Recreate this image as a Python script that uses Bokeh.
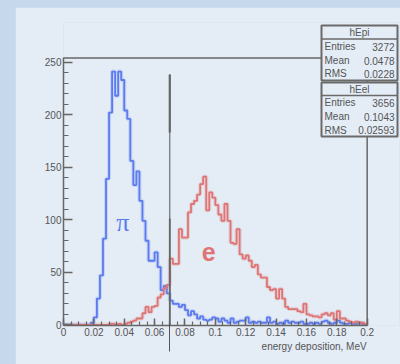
import numpy as np
from bokeh.plotting import figure
from bokeh.models import FixedTicker, Range1d, LinearAxis, Title
from bokeh.layouts import column
from bokeh.embed import file_html
from bokeh.resources import INLINE
from bokeh.core.properties import value

# ---------------- data ----------------
bin_width = 0.002
n_bins = 100
pion_counts = [
    0, 0, 0, 0, 0, 0, 0, 0, 0, 2,
    7, 25, 47, 82, 139, 202, 241, 218, 241, 233,
    204, 196, 156, 133, 146, 118, 99, 80, 61, 61,
    69, 55, 33, 37, 30, 23, 20, 20, 17, 19,
    14, 9, 13, 10, 6, 8, 5, 4, 5, 7,
    6, 3, 6, 4, 2, 6, 2, 3, 4, 4,
    7, 2, 3, 2, 3, 2, 2, 7, 2, 3,
    1, 2, 1, 4, 2, 3, 2, 2, 3, 1,
    1, 2, 1, 2, 1, 3, 4, 2, 1, 2,
    4, 2, 1, 1, 2, 1, 1, 2, 1, 0,
]
electron_counts = [
    0, 0, 0, 0, 0, 0, 0, 0, 0, 0,
    0, 0, 0, 0, 0, 1, 1, 0, 1, 0,
    1, 2, 3, 4, 6, 6, 11, 17, 12, 17,
    18, 26, 29, 35, 38, 63, 58, 58, 91, 83,
    83, 107, 115, 118, 124, 134, 141, 109, 126, 121,
    114, 105, 99, 115, 99, 78, 77, 91, 67, 63,
    66, 61, 55, 57, 48, 45, 45, 36, 33, 34,
    25, 34, 25, 17, 15, 15, 15, 13, 12, 20,
    10, 9, 8, 8, 7, 10, 11, 9, 11, 5,
    13, 6, 6, 4, 3, 2, 3, 2, 2, 1,
]
x_ticks = [0, 0.02, 0.04, 0.06, 0.08, 0.1, 0.12, 0.14, 0.16, 0.18, 0.2]
x_tick_labels = ["0", "0.02", "0.04", "0.06", "0.08", "0.1", "0.12", "0.14", "0.16", "0.18", "0.2"]
y_ticks = [0, 50, 100, 150, 200, 250]
x_label = "energy deposition, MeV"
cut_value = 0.07
stats_pi = ("hEpi", [("Entries", "3272"), ("Mean", "0.0478"), ("RMS", "0.0228")])
stats_e = ("hEel", [("Entries", "3656"), ("Mean", "0.1043"), ("RMS", "0.02593")])

# ---------------- layout / style ----------------
PANEL = "#e4ecf5"
STRIP = "#c6d8ec"
AXIS = "#666666"
TEXT = "#555555"
BLUE = "#5b7bef"
RED = "#de7474"
FONT = "Liberation Sans"

W, H = 385, 357
OFF_X, OFF_Y = 15, 7
MB_L, MB_R, MB_T, MB_B = 48, 1, 15, 39
X_END = 0.2 * (W - MB_L - MB_R) / (366.67 - (OFF_X + MB_L))
Y_START = -0.64
Y_END = Y_START + (H - MB_T - MB_B) / 1.0507
FRAME_TOP = 254

fl = OFF_X + MB_L
fw = W - MB_L - MB_R
ft = OFF_Y + MB_T
fh = H - MB_T - MB_B


def wx(px):
    return X_END * (px - fl) / fw


def wy(py):
    return Y_START + (ft + fh - py) / fh * (Y_END - Y_START)


p = figure(width=W, height=H, x_range=Range1d(0, X_END), y_range=Range1d(Y_START, Y_END),
           output_backend="svg", toolbar_location=None,
           min_border_left=MB_L, min_border_right=MB_R, min_border_top=MB_T, min_border_bottom=MB_B,
           background_fill_color=PANEL, border_fill_color=PANEL, outline_line_color=None)
p.margin = (OFF_Y, 0, 0, OFF_X)
p.grid.visible = False

xa = p.xaxis[0]
xa.ticker = FixedTicker(ticks=x_ticks, minor_ticks=[round(i * 0.005, 3) for i in range(41)])
xa.bounds = (0, 0.2)
xa.major_label_overrides = {t: l for t, l in zip(x_ticks, x_tick_labels)}
xa.major_tick_in = 7
xa.major_tick_out = 0
xa.minor_tick_in = 4
xa.minor_tick_out = 0
xa.major_label_standoff = 2

ya = p.yaxis[0]
ya.ticker = FixedTicker(ticks=y_ticks, minor_ticks=list(range(0, 251, 10)))
ya.bounds = (0, FRAME_TOP)
ya.major_tick_in = 9
ya.major_tick_out = 0
ya.minor_tick_in = 5
ya.minor_tick_out = 0
ya.major_label_standoff = 2

for ax in (xa, ya):
    ax.axis_line_color = AXIS
    ax.axis_line_width = 1.5
    ax.major_tick_line_color = AXIS
    ax.major_tick_line_width = 1.5
    ax.minor_tick_line_color = AXIS
    ax.minor_tick_line_width = 1.2
    ax.major_label_text_font = FONT
    ax.major_label_text_font_size = "10px"
    ax.major_label_text_color = TEXT

# x-axis title, right-aligned at the end of the axis
xtitle = Title(text=x_label, align="right", offset=(OFF_X + W) - 1 - 366.67 + 0.5,
               text_font=FONT, text_font_size="10px", text_font_style="normal",
               text_color=TEXT, standoff=0)
p.add_layout(xtitle, "below")

# cut marker continuing below the axis (tick of an unlabeled axis)
cut_axis = LinearAxis(ticker=FixedTicker(ticks=[cut_value], minor_ticks=[]),
                      major_label_overrides={cut_value: ""}, axis_line_color=None,
                      major_tick_in=28, major_tick_out=0, major_tick_line_color="#555555",
                      major_tick_line_width=1, major_label_standoff=0,
                      major_label_text_font_size="1px")
p.add_layout(cut_axis, "below")

# frame top / right edges
p.line([0, 0.2, 0.2], [FRAME_TOP, FRAME_TOP, 0], line_color=AXIS, line_width=1.5)

# histograms
edges = np.arange(n_bins + 1) * bin_width
xs = np.repeat(edges, 2)[1:-1]
for counts, col in ((pion_counts, BLUE), (electron_counts, RED)):
    ys = np.repeat(np.array(counts, dtype=float), 2)
    p.line(xs, ys, line_color=col, line_width=4, line_alpha=0.22)
    p.line(xs, ys, line_color=col, line_width=1.8)

# cut line
p.line([cut_value, cut_value], [Y_START, wy(74)], line_color="#555555", line_width=1)
p.line([cut_value, cut_value], [wy(132), wy(74)], line_color="#666666", line_width=2.2)
p.line([cut_value, cut_value], [Y_START, wy(218)], line_color="#666666", line_width=1.8)

# particle labels
p.text(x=[0.0391], y=[97.7], text=["π"], text_color=BLUE, text_font=value("Liberation Serif"),
       text_font_size="26px", text_align="center", text_baseline="middle")
p.text(x=[0.0956], y=[69], text=["e"], text_color=RED, text_font=value(FONT), text_font_style="bold",
       text_font_size="25px", text_align="center", text_baseline="middle")

# stats boxes
def stats_box(stats, top, sep, bottom, rows_y, title_y):
    name, rows = stats
    p.quad(left=[wx(321)], right=[wx(397)], top=[wy(top)], bottom=[wy(bottom)],
           fill_color=PANEL, line_color="#6a6a6a", line_width=2)
    p.line([wx(321), wx(397)], [wy(sep), wy(sep)], line_color="#6a6a6a", line_width=1.5)
    p.text(x=[wx(359)], y=[wy(title_y)], text=[name], text_color=TEXT, text_font=value(FONT),
           text_font_size="10px", text_align="center", text_baseline="middle")
    p.text(x=[wx(324)] * 3, y=[wy(r) for r in rows_y], text=[k for k, _ in rows], text_color=TEXT,
           text_font=value(FONT), text_font_size="10px", text_align="left", text_baseline="middle")
    p.text(x=[wx(394)] * 3, y=[wy(r) for r in rows_y], text=[v for _, v in rows], text_color=TEXT,
           text_font=value(FONT), text_font_size="10px", text_align="right", text_baseline="middle")


stats_box(stats_pi, 25, 38.5, 80, [46, 60, 73], 32)
stats_box(stats_e, 82, 95, 136, [102, 116, 129.5], 88.5)

root = column(p, styles={"background-color": STRIP})
open("out.html", "w").write(file_html(root, INLINE))
